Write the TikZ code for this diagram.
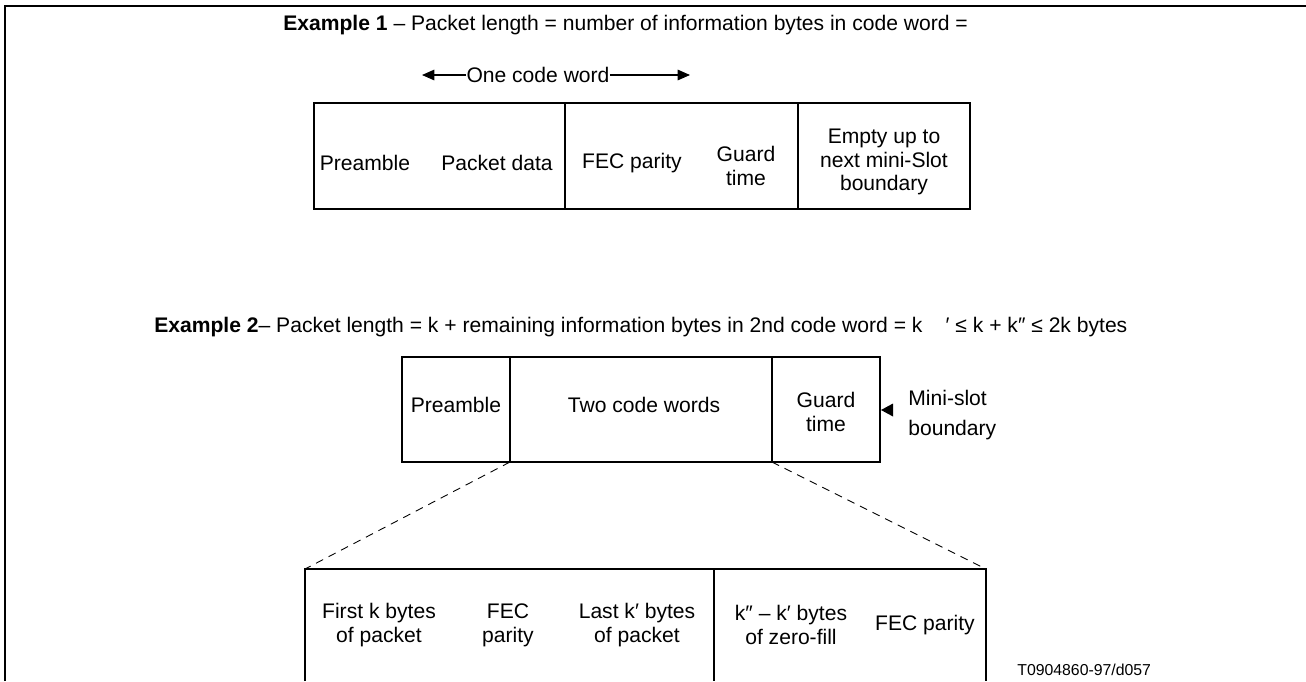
\documentclass[tikz,border=0pt]{standalone}
\usepackage{fontspec}
\setmainfont{Liberation Sans}
\usetikzlibrary{arrows.meta}
\begin{document}
\begin{tikzpicture}[x=0.02cm,y=-0.02cm,
  every node/.style={font=\fontsize{12}{13.5}\selectfont, inner sep=0pt},
  frameline/.style={line width=1.3pt},
  boxline/.style={line width=1.1pt},
  lbl/.style={align=center},
  zoomline/.style={dash pattern=on 4.5pt off 3.5pt, line width=0.5pt},
  arr/.style={-{Triangle[length=7pt,width=6pt]}, line width=0.6pt}]
\useasboundingbox (0,0) rectangle (1306,681);
\fill[white] (0,0) rectangle (1306,681);
\draw[frameline] (5,681) -- (5,6) -- (1306,6);

% Example 1
\node[anchor=west] (t1) at (283,25) {\textbf{Example 1} – Packet length = number of information bytes in code word =};
\node (ocw) at (538,75) {One code word};
\coordinate (al) at (422,75);
\coordinate (ar) at (690,75);
\draw[arr] (ocw.west) -- (al);
\draw[arr] (ocw.east) -- (ar);

\draw[boxline] (314,103) rectangle (970,209);
\draw[boxline] (565,103) -- (565,209);
\draw[boxline] (798,103) -- (798,209);
\node[lbl] (p1) at (365,163) {Preamble};
\node[lbl] (pd1) at (497,163) {Packet data};
\node[lbl] (fec1) at (632,163) {FEC parity};
\node[lbl] (g1) at (746,166) {Guard\\time};
\node[lbl] (e1) at (884,162) {Empty up to\\next mini-Slot\\boundary};

% Example 2
\node[anchor=west] (t2) at (154,327) {\textbf{Example 2}– Packet length = k + remaining information bytes in 2nd code word = k\hspace{1.1em}′ ≤ k + k″ ≤ 2k bytes};

\coordinate (b2tl) at (402,357);
\coordinate (b2br) at (880,462);
\coordinate (b2d1) at (510,462);
\coordinate (b2d2) at (772,462);
\draw[boxline] (b2tl) rectangle (b2br);
\draw[boxline] (510,357) -- (b2d1);
\draw[boxline] (772,357) -- (b2d2);
\node[lbl] (p2) at (456,405) {Preamble};
\node[lbl] (tcw) at (644,405) {Two code words};
\node[lbl] (g2) at (826,412) {Guard\\time};
\node[align=left, anchor=west, font=\fontsize{12}{17}\selectfont] (ms) at (908,415) {Mini-slot\\boundary};
\fill (881,410) -- (893,403.5) -- (893,416.5) -- cycle;

% Expansion
\coordinate (b3l) at (305,569);
\coordinate (b3r) at (986,569);
\draw[zoomline] (b2d1) -- (b3l);
\draw[zoomline] (b2d2) -- (b3r);
\draw[boxline] (305,681) -- (b3l) -- (b3r) -- (986,681);
\draw[boxline] (714,569) -- (714,681);
\node[lbl] (fk) at (379,625) {First k bytes\\of packet};
\node[lbl] (fec2) at (508,625) {FEC\\parity};
\node[lbl] (lk) at (637,625) {Last k′ bytes\\of packet};
\node[lbl] (zf) at (791,625) {k″ – k′ bytes\\of zero-fill};
\node[lbl] (fec3) at (925,625) {FEC parity};
\node[anchor=west, font=\fontsize{9}{11}\selectfont] (id) at (1017,670) {T0904860-97/d057};
\end{tikzpicture}
\end{document}
